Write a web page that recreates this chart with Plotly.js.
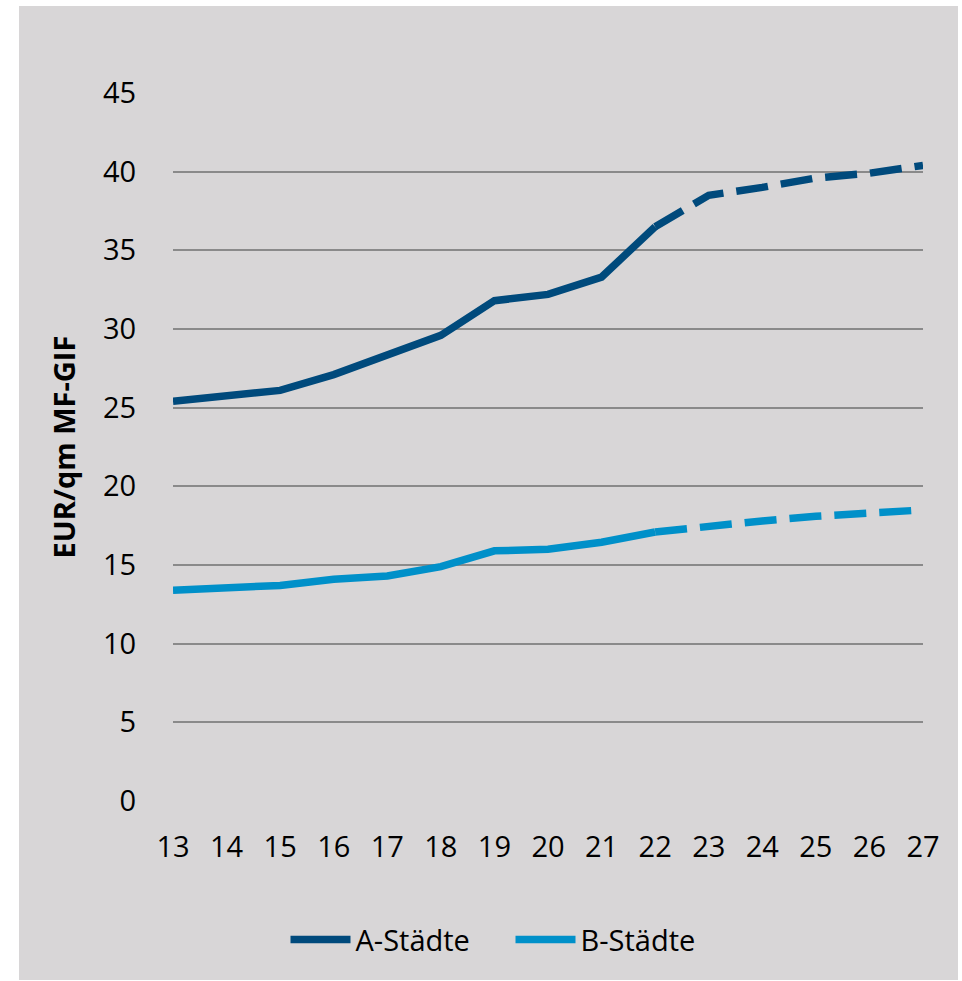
<!DOCTYPE html>
<html>
<head>
<meta charset="utf-8">
<script src="https://cdn.plot.ly/plotly-3.0.1.min.js"></script>
<style>
  html, body { margin: 0; padding: 0; background: #ffffff; }
  #panel { position: absolute; left: 19px; top: 6px; width: 939px; height: 974px; background: #d8d6d7; }
  #chart { position: absolute; left: 0; top: 0; width: 962px; height: 981px; }
</style>
</head>
<body>
<div id="panel"></div>
<div id="chart"></div>
<script>
// Years (two-digit) and average rents in EUR/qm MF-GIF
const years = [13, 14, 15, 16, 17, 18, 19, 20, 21, 22, 23, 24, 25, 26, 27];
const aStaedte = [25.4, 25.7, 26.1, 27.1, 28.3, 29.6, 31.8, 32.2, 33.3, 36.5, 38.5, 39.0, 39.6, 39.9, 40.4];
const bStaedte = [13.4, 13.5, 13.7, 14.1, 14.3, 14.9, 15.9, 16.0, 16.45, 17.1, 17.5, 17.8, 18.1, 18.3, 18.5];
// Index of the last actual year; later values are forecasts (dashed)
const lastActual = years.indexOf(22);
const yTicks = [0, 5, 10, 15, 20, 25, 30, 35, 40, 45];

const colorA = '#004a7c';
const colorB = '#0090c9';
const font = 'Open Sans, Liberation Sans, sans-serif';

function segment(name, xs, ys, color, dashed, showLegend) {
  return {
    type: 'scatter', mode: 'lines', name: name,
    x: xs, y: ys,
    line: { color: color, width: 7.5, dash: dashed ? '32px,13px' : 'solid' },
    showlegend: showLegend, legendgroup: name, hoverinfo: 'x+y'
  };
}

const traces = [
  segment('A-Städte', years.slice(0, lastActual + 1), aStaedte.slice(0, lastActual + 1), colorA, false, true),
  segment('A-Städte', years.slice(lastActual), aStaedte.slice(lastActual), colorA, true, false),
  segment('B-Städte', years.slice(0, lastActual + 1), bStaedte.slice(0, lastActual + 1), colorB, false, true),
  segment('B-Städte', years.slice(lastActual), bStaedte.slice(lastActual), colorB, true, false)
];

const layout = {
  width: 962, height: 981,
  margin: { l: 173, r: 39, t: 93, b: 180 },
  paper_bgcolor: 'rgba(0,0,0,0)',
  plot_bgcolor: 'rgba(0,0,0,0)',
  font: { family: font, color: '#000000', size: 29 },
  showlegend: true,
  legend: {
    orientation: 'h', x: 0.45, xanchor: 'center', y: -0.196, yanchor: 'middle',
    font: { family: font, size: 29, color: '#000000' },
    bgcolor: 'rgba(0,0,0,0)', itemwidth: 60, entrywidth: 150
  },
  xaxis: {
    range: [13, 27], tickvals: years, ticktext: years.map(String),
    showgrid: false, zeroline: false, showline: false,
    ticks: 'outside', ticklen: 20, tickcolor: 'rgba(0,0,0,0)',
    tickfont: { family: font, size: 29, color: '#000000' },
    fixedrange: true
  },
  yaxis: {
    range: [0, 45], tickvals: yTicks, ticktext: yTicks.map(String),
    showgrid: true, gridcolor: '#8a8a8a', gridwidth: 2,
    zeroline: false, showline: false,
    ticks: 'outside', ticklen: 30, tickcolor: 'rgba(0,0,0,0)',
    tickfont: { family: font, size: 29, color: '#000000' },
    title: { text: '<b>EUR/qm MF-GIF</b>', font: { family: font, size: 29, color: '#000000' }, standoff: 18 },
    fixedrange: true
  }
};

Plotly.newPlot('chart', traces, layout, { displayModeBar: false, staticPlot: true });
</script>
</body>
</html>
